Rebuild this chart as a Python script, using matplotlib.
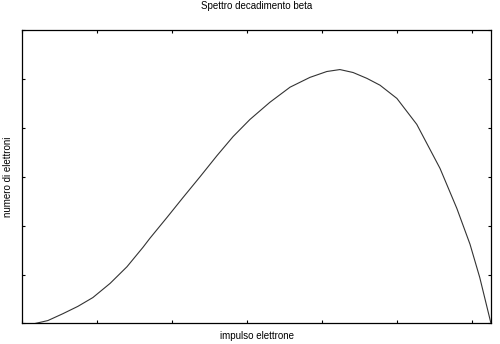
import matplotlib
matplotlib.use("Agg")
import matplotlib.pyplot as plt

impulso = [0.035, 0.069, 0.109, 0.149, 0.189, 0.235, 0.280, 0.323, 0.341, 0.387,
           0.429, 0.475, 0.520, 0.563, 0.608, 0.661, 0.715, 0.768, 0.813, 0.848,
           0.883, 0.920, 0.955, 1.000, 1.053, 1.115, 1.160, 1.195, 1.221, 1.251]
elettroni = [0.00, 0.06, 0.20, 0.35, 0.53, 0.82, 1.16, 1.56, 1.74, 2.17,
             2.57, 3.00, 3.43, 3.82, 4.17, 4.52, 4.83, 5.03, 5.15, 5.19,
             5.13, 5.01, 4.87, 4.60, 4.07, 3.17, 2.35, 1.62, 0.94, 0.00]
x_ticks = [0.0, 0.2, 0.4, 0.6, 0.8, 1.0, 1.2]
y_ticks = [0, 1, 2, 3, 4, 5, 6]

plt.rcParams['font.family'] = ['Liberation Sans', 'DejaVu Sans']

fig = plt.figure(figsize=(5.0, 3.44), dpi=100)
ax = fig.add_axes([0.044, 0.0596, 0.938, 0.8534])
ax.plot(impulso, elettroni, color='#333333', linewidth=0.8)
ax.set_xlim(0, 1.251)
ax.set_ylim(0, 6)
ax.set_xticks(x_ticks)
ax.set_yticks(y_ticks)
ax.set_xticklabels([])
ax.set_yticklabels([])
ax.tick_params(direction='in', length=2.5, width=0.8, top=True, right=True)
for s in ax.spines.values():
    s.set_linewidth(0.9)
ax.set_title('Spettro decadimento beta', fontsize=7, pad=15)
ax.set_xlabel('impulso elettrone', fontsize=7, labelpad=2)
ax.set_ylabel('numero di elettroni', fontsize=7, labelpad=3)

fig.savefig('out.png', dpi=100)
